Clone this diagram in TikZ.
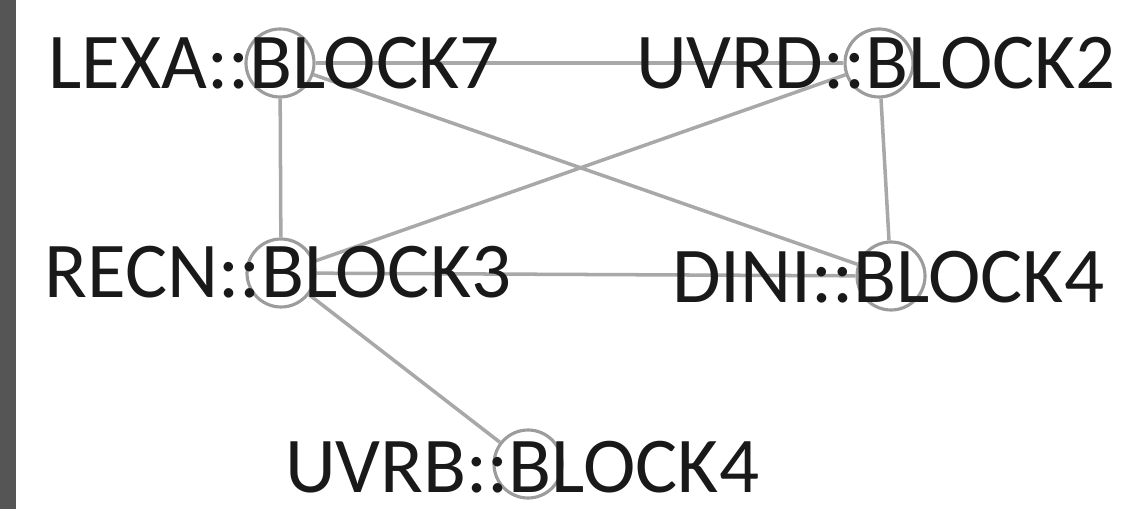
\documentclass[tikz,border=0pt]{standalone}
\usepackage{fontspec}
\setmainfont{Carlito}
\usepackage{tikz}
\usetikzlibrary{positioning}
\definecolor{linkgray}{HTML}{A8A8A8}
\definecolor{ringgray}{HTML}{9C9C9C}
\definecolor{bargray}{HTML}{555555}

\begin{document}
\begin{tikzpicture}[x=0.02cm,y=-0.02cm,
        ring/.style={circle, draw=ringgray, line width=1.8pt, minimum size=1.36cm, inner sep=0pt},
        link/.style={draw=linkgray, line width=2pt},
        lbl/.style={text=black!90, font=\fontsize{45}{54}\selectfont, inner sep=0pt}]
        \useasboundingbox (0,0) rectangle (1131,509);

        % Side bar
        \fill[bargray] (0,0) rectangle (16,509);

        % Nodes
        \node[ring] (lexa) at (280,63) {};
        \node[ring] (uvrd) at (879,63) {};
        \node[ring] (recn) at (281,273) {};
        \node[ring] (dini) at (891,276) {};
        \node[ring] (uvrb) at (528,464) {};

        % Links
        \foreach \a/\b in {lexa/uvrd, lexa/recn, lexa/dini, uvrd/recn, uvrd/dini, recn/dini, recn/uvrb}
        \draw[link] (\a) -- (\b);

        % Labels
        \node[lbl] (lexa-txt) at (274,63) {LEXA::BLOCK7};
        \node[lbl] (uvrd-txt) at (876,63) {UVRD::BLOCK2};
        \node[lbl] (recn-txt) at (278,272) {RECN::BLOCK3};
        \node[lbl] (dini-txt) at (888,277) {DINI::BLOCK4};
        \node[lbl] (uvrb-txt) at (522,467) {UVRB::BLOCK4};

    \end{tikzpicture}
\end{document}
